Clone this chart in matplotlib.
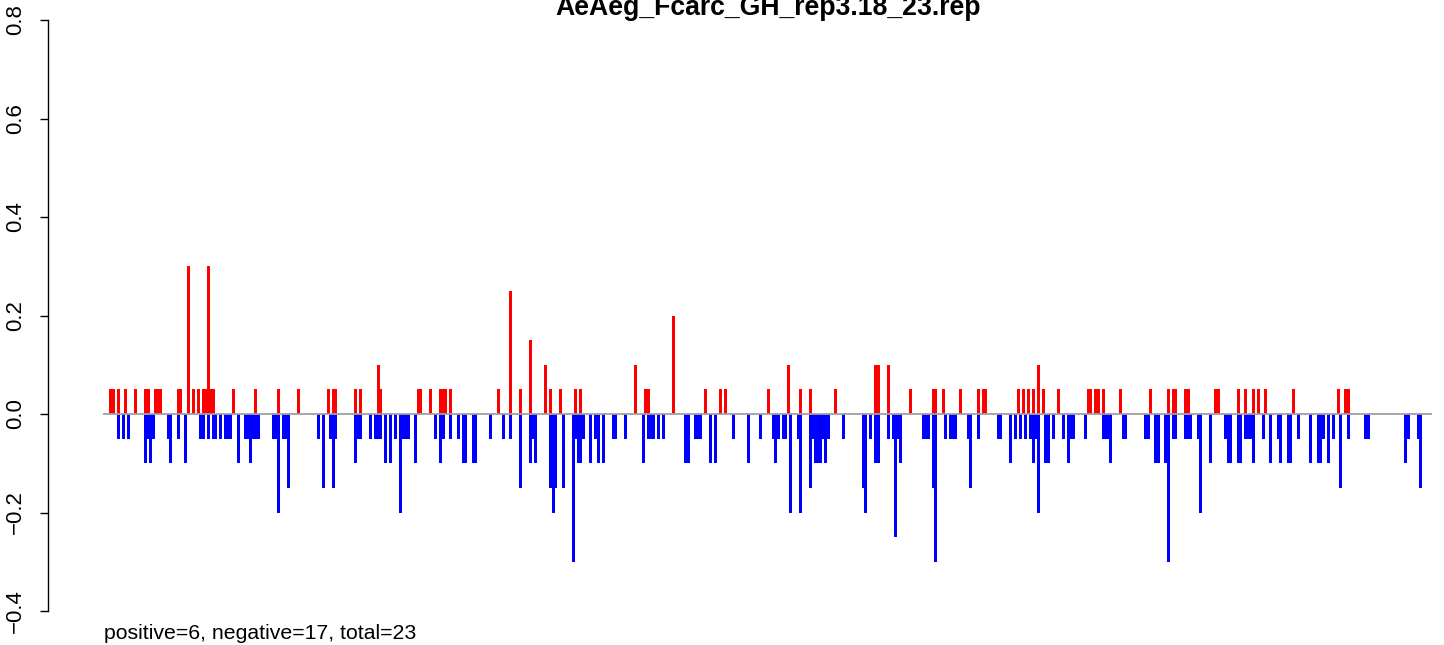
import matplotlib
matplotlib.use("Agg")
import matplotlib.pyplot as plt

plt.rcParams['font.family'] = ['Liberation Sans', 'DejaVu Sans']

title = "AeAeg_Fcarc_GH_rep3.18_23.rep"
footer = "positive=6, negative=17, total=23"
yticks = [-0.4, -0.2, 0.0, 0.2, 0.4, 0.6, 0.8]
ytick_labels = ["\u22120.4", "\u22120.2", "0.0", "0.2", "0.4", "0.6", "0.8"]
n_bins = 531.6

pos_idx = [3, 4, 6, 9, 13, 17, 18, 21, 22, 23, 30, 31, 34, 36, 38, 40, 41, 42, 43, 44,
           52, 61, 70, 78, 90, 92, 93,
           101, 103, 110, 111, 126, 127, 131, 135, 136, 137, 139,
           158, 163, 167, 171, 177, 179, 183, 189, 191,
           213, 217, 218, 228,
           241, 247, 249, 266, 274, 279, 283,
           293, 309, 310, 314, 323, 332, 333, 336,
           343, 350, 352, 353, 366, 368, 370, 372, 374, 376, 382,
           394, 395, 397, 398, 400, 407, 419, 426, 428, 429, 433, 434,
           445, 446, 454, 457, 460, 462, 465, 476,
           494, 497, 498]
pos_val = [0.05, 0.05, 0.05, 0.05, 0.05, 0.05, 0.05, 0.05, 0.05, 0.05, 0.05, 0.05, 0.3, 0.05, 0.05, 0.05, 0.05, 0.3, 0.05, 0.05,
           0.05, 0.05, 0.05, 0.05, 0.05, 0.05, 0.05,
           0.05, 0.05, 0.1, 0.05, 0.05, 0.05, 0.05, 0.05, 0.05, 0.05, 0.05,
           0.05, 0.25, 0.05, 0.15, 0.1, 0.05, 0.05, 0.05, 0.05,
           0.1, 0.05, 0.05, 0.2,
           0.05, 0.05, 0.05, 0.05, 0.1, 0.05, 0.05,
           0.05, 0.1, 0.1, 0.1, 0.05, 0.05, 0.05, 0.05,
           0.05, 0.05, 0.05, 0.05, 0.05, 0.05, 0.05, 0.05, 0.1, 0.05, 0.05,
           0.05, 0.05, 0.05, 0.05, 0.05, 0.05, 0.05, 0.05, 0.05, 0.05, 0.05, 0.05,
           0.05, 0.05, 0.05, 0.05, 0.05, 0.05, 0.05, 0.05,
           0.05, 0.05, 0.05]

neg_idx = [6, 8, 10, 17, 18, 19, 20, 26, 27, 30, 33, 39, 40, 42, 44, 45, 47,
           49, 50, 51, 54, 57, 58, 59, 60, 61, 62, 68, 69, 70, 72, 73, 74, 86, 88, 91, 92, 93,
           101, 102, 103, 107, 109, 110, 111, 113, 115, 117, 119, 120, 121, 122, 125, 133, 135, 136, 139, 142, 144, 145, 148, 149,
           155, 160, 163, 167, 171, 172, 173, 179, 180, 181, 184, 188, 189, 190, 191, 192,
           195, 197, 198, 200, 204, 205, 209, 216, 218, 219, 220, 222, 224, 233, 234, 237, 238, 239,
           243, 245, 252, 258, 263, 268, 269, 270, 272, 273, 275, 278, 279, 283, 284, 285, 286, 287, 288, 289, 290,
           296, 304, 305, 307, 309, 310, 314, 316, 317, 318, 319, 328, 329, 330, 332, 333, 337,
           339, 340, 341, 346, 347, 350, 358, 359, 363, 365, 367, 369, 371, 372, 373, 374, 377, 378, 380, 384,
           386, 387, 388, 393, 400, 401, 402, 403, 408, 409, 417, 418, 421, 422, 425, 426, 428, 429,
           433, 434, 435, 438, 439, 443, 449, 450, 451, 454, 455, 457, 458, 459, 460, 464, 467, 470, 471, 474, 475, 478,
           483, 486, 487, 488, 490, 492, 495, 498, 505, 506, 521, 522, 526, 527]
neg_val = [-0.05, -0.05, -0.05, -0.1, -0.05, -0.1, -0.05, -0.05, -0.1, -0.05, -0.1, -0.05, -0.05, -0.05, -0.05, -0.05, -0.05,
           -0.05, -0.05, -0.05, -0.1, -0.05, -0.05, -0.1, -0.05, -0.05, -0.05, -0.05, -0.05, -0.2, -0.05, -0.05, -0.15, -0.05, -0.15, -0.05, -0.15, -0.05,
           -0.1, -0.05, -0.05, -0.05, -0.05, -0.05, -0.05, -0.1, -0.1, -0.05, -0.2, -0.05, -0.05, -0.05, -0.1, -0.05, -0.1, -0.05, -0.05, -0.05, -0.1, -0.1, -0.1, -0.1,
           -0.05, -0.05, -0.05, -0.15, -0.1, -0.05, -0.1, -0.15, -0.2, -0.15, -0.15, -0.3, -0.05, -0.1, -0.1, -0.05,
           -0.1, -0.05, -0.1, -0.1, -0.05, -0.05, -0.05, -0.1, -0.05, -0.05, -0.05, -0.05, -0.05, -0.1, -0.1, -0.05, -0.05, -0.05,
           -0.1, -0.1, -0.05, -0.1, -0.05, -0.05, -0.1, -0.05, -0.05, -0.05, -0.2, -0.05, -0.2, -0.15, -0.05, -0.1, -0.1, -0.1, -0.05, -0.1, -0.05,
           -0.05, -0.15, -0.2, -0.05, -0.1, -0.1, -0.05, -0.05, -0.25, -0.05, -0.1, -0.05, -0.05, -0.05, -0.15, -0.3, -0.05,
           -0.05, -0.05, -0.05, -0.05, -0.15, -0.05, -0.05, -0.05, -0.1, -0.05, -0.05, -0.05, -0.05, -0.1, -0.05, -0.2, -0.1, -0.1, -0.05, -0.05,
           -0.1, -0.05, -0.05, -0.05, -0.05, -0.05, -0.05, -0.1, -0.05, -0.05, -0.05, -0.05, -0.1, -0.1, -0.1, -0.3, -0.05, -0.05,
           -0.05, -0.05, -0.05, -0.05, -0.2, -0.1, -0.05, -0.1, -0.1, -0.1, -0.1, -0.05, -0.05, -0.05, -0.1, -0.05, -0.1, -0.05, -0.1, -0.1, -0.1, -0.05,
           -0.1, -0.1, -0.1, -0.05, -0.1, -0.05, -0.15, -0.05, -0.05, -0.05, -0.1, -0.05, -0.05, -0.15]

W, H = 1444, 645
fig = plt.figure(figsize=(W / 100, H / 100), dpi=100)
ax_left, ax_right, ax_top, ax_bot = 48, 1432, 20, 611
ax = fig.add_axes([ax_left / W, 1 - ax_bot / H, (ax_right - ax_left) / W, (ax_bot - ax_top) / H])

px_per_bin = 2.5
x_at_left = (ax_left - 103) / px_per_bin
x_at_right = (ax_right - 103) / px_per_bin
ax.set_xlim(x_at_left, x_at_right)
ax.set_ylim(-0.4, 0.8)

ax.bar(pos_idx, pos_val, width=1.2, color='#FF0000', linewidth=0, antialiased=False, zorder=2)
ax.bar(neg_idx, neg_val, width=1.2, color='#0000FF', linewidth=0, antialiased=False, zorder=2)
ax.hlines(0, 0, n_bins, color='#a0a0a0', linewidth=1.3, zorder=3)

for s in ['top', 'right', 'bottom']:
    ax.spines[s].set_visible(False)
ax.spines['left'].set_linewidth(1.0)
ax.set_xticks([])
ax.set_yticks(yticks)
ax.set_yticklabels(ytick_labels, rotation=90, va='center', fontsize=16)
ax.tick_params(axis='y', length=6, width=1.0, pad=10)

fig.text(768 / W, 1 - 15 / H, title, ha='center', va='baseline', fontsize=19.2, fontweight='bold')
fig.text(104 / W, 1 - 639 / H, footer, ha='left', va='baseline', fontsize=15.3)

fig.savefig('out.png', dpi=100)
